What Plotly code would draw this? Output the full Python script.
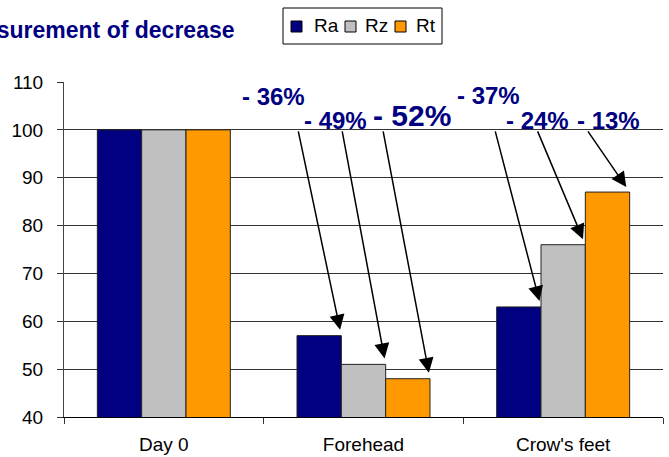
import plotly.graph_objects as go

# ---- data ----
categories = ["Day 0", "Forehead", "Crow's feet"]
series_names = ["Ra", "Rz", "Rt"]
ra_values = [100, 57, 63]
rz_values = [100, 51, 76]
rt_values = [100, 48, 87]
series_colors = ["#000080", "#C0C0C0", "#FF9900"]

decrease_labels = ["- 36%", "- 49%", "- 52%", "- 37%", "- 24%", "- 13%"]
title_text = "Measurement of decrease"

FONT = "Liberation Sans, Arial, sans-serif"
NAVY = "#000080"

W, H = 669, 457
ML, MR, MT, MB = 64, 6, 82, 40
PW, PH = W - ML - MR, H - MT - MB


def px_x(px):
    return (px - ML) / PW


def px_y(py):
    return (H - MB - py) / PH


fig = go.Figure()
for name, vals, col in zip(series_names, [ra_values, rz_values, rt_values], series_colors):
    fig.add_trace(go.Bar(
        name=name, x=categories, y=vals, showlegend=False,
        marker=dict(color=col, line=dict(color="#222222", width=1)),
    ))

bargap = 0.334
group_w = 1 - bargap
bar_w = group_w / 3
right_edge = [-group_w / 2 + bar_w * (k + 1) for k in range(3)]

# arrows from the labels to the top-right corner of each bar
arrow_tails_x = [0.672, 0.892, 1.097, 1.658, 1.869, 2.119]
arrow_tail_y = 100
all_vals = [ra_values, rz_values, rt_values]
k = 0
for ci in [1, 2]:
    for si in range(3):
        fig.add_annotation(
            x=ci + right_edge[si], y=all_vals[si][ci], xref="x", yref="y",
            ax=arrow_tails_x[k], ay=arrow_tail_y, axref="x", ayref="y",
            showarrow=True, arrowhead=2, arrowsize=2, arrowwidth=1.5,
            arrowcolor="black", standoff=6, text="",
        )
        k += 1

# percentage labels
label_x = [0.549, 0.860, 1.245, 1.628, 1.869, 2.229]
label_y = [106.9, 102.0, 103.05, 107.1, 102.0, 102.0]
label_size = [24, 24, 30, 24, 24, 24]
for t, lx, ly, ls in zip(decrease_labels, label_x, label_y, label_size):
    fig.add_annotation(
        x=lx, y=ly, xref="x", yref="y", text="<b>%s</b>" % t, showarrow=False,
        font=dict(family=FONT, size=ls, color=NAVY), xanchor="center", yanchor="middle",
    )

# title (cut off at the left edge, as in the original)
fig.add_annotation(
    x=px_x(237), y=px_y(30), xref="paper", yref="paper", text="<b>%s</b>" % title_text,
    showarrow=False, xanchor="right", yanchor="middle",
    font=dict(family=FONT, size=23, color=NAVY),
)

# legend box (drawn to match the original compact legend)
shapes = [dict(type="rect", xref="paper", yref="paper",
               x0=px_x(283), x1=px_x(442), y0=px_y(44), y1=px_y(8),
               line=dict(color="black", width=1), fillcolor="white", layer="above")]
sq_left = [291, 345, 395]
txt_left = [312, 363, 414]
for name, col, sx, tx in zip(series_names, series_colors, sq_left, txt_left):
    shapes.append(dict(type="rect", xref="paper", yref="paper",
                       x0=px_x(sx), x1=px_x(sx + 11), y0=px_y(32), y1=px_y(21),
                       line=dict(color="black", width=1), fillcolor=col, layer="above"))
    fig.add_annotation(
        x=px_x(tx), y=px_y(25.5), xref="paper", yref="paper", text=name,
        showarrow=False, xanchor="left", yanchor="middle",
        font=dict(family=FONT, size=19, color="black"),
    )

fig.update_layout(
    width=W, height=H,
    margin=dict(l=ML, r=MR, t=MT, b=MB, pad=0),
    paper_bgcolor="white", plot_bgcolor="white",
    barmode="group", bargap=bargap, bargroupgap=0,
    font=dict(family=FONT, size=19, color="black"),
    showlegend=False,
    shapes=shapes,
    xaxis=dict(
        automargin=False,
        showline=True, linecolor="black", linewidth=1,
        ticks="outside", ticklen=6, tickcolor="#333333", tickson="boundaries",
        showgrid=False, ticklabelstandoff=10,
        tickfont=dict(family=FONT, size=19, color="black"),
    ),
    yaxis=dict(
        automargin=False,
        range=[40, 110], dtick=10, tick0=40,
        showline=True, linecolor="#444444", linewidth=1,
        ticks="outside", ticklen=6, tickcolor="#333333",
        showgrid=True, gridcolor="#333333", gridwidth=1,
        zeroline=False, ticklabelstandoff=10,
        tickfont=dict(family=FONT, size=19, color="black"),
    ),
)

fig.write_html(
    "out.html",
    config={"displayModeBar": False},
    post_script="document.body.style.margin='0';document.body.style.overflow='hidden';",
)
